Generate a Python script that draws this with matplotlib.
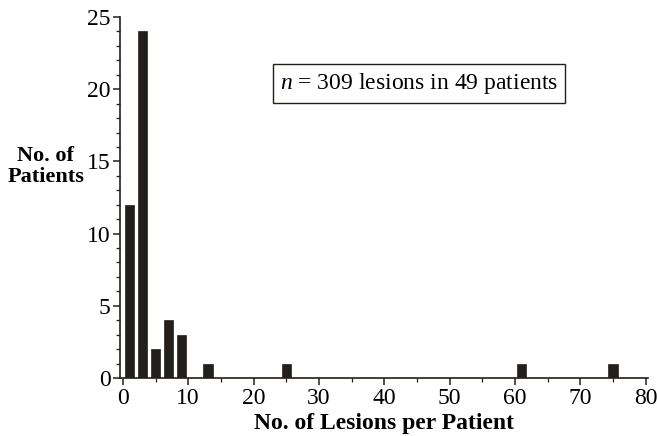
import numpy as np
import matplotlib.pyplot as plt
from matplotlib.ticker import MultipleLocator

# Data
lesions = [1, 3, 5, 7, 9, 13, 25, 61, 75]      # bar centres (lesions per patient)
patients = [12, 24, 2, 4, 3, 1, 1, 1, 1]       # number of patients

plt.rcParams['font.family'] = ['Liberation Serif', 'DejaVu Serif']
plt.rcParams['mathtext.fontset'] = 'custom'
plt.rcParams['mathtext.it'] = 'Liberation Serif:italic'
plt.rcParams['mathtext.rm'] = 'Liberation Serif'

fig = plt.figure(figsize=(6.57, 4.36), dpi=100)
ax = fig.add_axes([0.183, 0.133, 0.803, 0.828])

ax.bar(lesions, patients, width=1.45, color='#231f1c', edgecolor='#231f1c', linewidth=0.5)

ax.set_xlim(-0.4, 80.3)
ax.set_ylim(0, 25)
ax.xaxis.set_major_locator(MultipleLocator(10))
ax.xaxis.set_minor_locator(MultipleLocator(5))
ax.yaxis.set_major_locator(MultipleLocator(5))
ax.yaxis.set_minor_locator(MultipleLocator(1))

for s in ['top', 'right']:
    ax.spines[s].set_visible(False)
for s in ['left', 'bottom']:
    ax.spines[s].set_linewidth(1.2)
    ax.spines[s].set_color('#231f1c')

ax.tick_params(which='major', length=5, width=1.1, labelsize=17, color='#231f1c', pad=2)
ax.tick_params(which='minor', length=3, width=0.9, color='#231f1c')

ax.set_xlabel('No. of Lesions per Patient', fontsize=17, fontweight='bold', labelpad=3)
fig.text(0.07, 0.618, 'No. of\nPatients', fontsize=16, fontweight='bold',
         ha='center', va='center', linespacing=1.05)

ax.text(45.3, 20.4, r'$n$ = 309 lesions in 49 patients', fontsize=17,
        ha='center', va='center',
        bbox=dict(boxstyle='square,pad=0.3', facecolor='white', edgecolor='#231f1c', linewidth=1.0))

fig.savefig('out.png', dpi=100)
